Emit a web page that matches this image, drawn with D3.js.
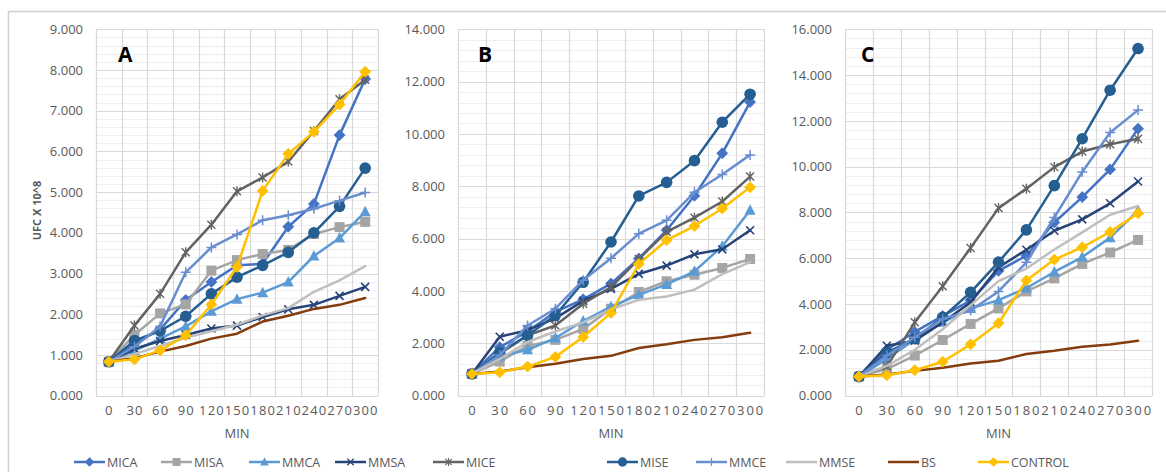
<!DOCTYPE html>
<html>
<head>
<meta charset="utf-8">
<script src="https://cdn.jsdelivr.net/npm/d3@7/dist/d3.min.js"></script>
<style>
  html, body { margin: 0; padding: 0; background: #fff; }
  svg { display: block; font-family: "Open Sans", "Liberation Sans", sans-serif; }
</style>
</head>
<body>
<svg id="chart" width="1166" height="472"></svg>
<script>
// Sampling times (minutes) shared by the three panels
const minutes = ["0", "30", "60", "90", "120", "150", "180", "210", "240", "270", "300"];
const seriesNames = ["MICA", "MISA", "MMCA", "MMSA", "MICE", "MISE", "MMCE", "MMSE", "BS", "CONTROL"];
const panelLetters = ["A", "B", "C"];
const yMax = [9, 14, 16];
const yStep = [1, 2, 2];

// Reference series, identical in every panel
const bs      = [0.83, 0.92, 1.08, 1.22, 1.40, 1.52, 1.82, 1.96, 2.13, 2.23, 2.40];
const control = [0.83, 0.89, 1.11, 1.48, 2.24, 3.16, 5.03, 5.94, 6.48, 7.15, 7.96];

// Panel A
const micaA = [0.83, 1.28, 1.62, 2.35, 2.79, 3.20, 3.24, 4.15, 4.71, 6.40, 7.78];
const misaA = [0.83, 1.49, 2.02, 2.24, 3.07, 3.33, 3.48, 3.58, 3.97, 4.14, 4.27];
const mmcaA = [0.83, 1.10, 1.40, 1.70, 2.07, 2.37, 2.53, 2.79, 3.43, 3.87, 4.52];
const mmsaA = [0.83, 1.15, 1.34, 1.49, 1.65, 1.72, 1.93, 2.12, 2.23, 2.45, 2.67];
const miceA = [0.83, 1.72, 2.50, 3.52, 4.20, 5.02, 5.36, 5.75, 6.50, 7.28, 7.76];
const miseA = [0.83, 1.35, 1.59, 1.95, 2.50, 2.91, 3.20, 3.52, 4.00, 4.65, 5.59];
const mmceA = [0.83, 1.20, 1.70, 3.03, 3.64, 3.96, 4.31, 4.43, 4.59, 4.79, 4.99];
const mmseA = [0.83, 1.02, 1.22, 1.42, 1.58, 1.74, 1.97, 2.15, 2.55, 2.83, 3.18];

// Panel B
const micaB = [0.83, 1.85, 2.45, 3.20, 3.68, 4.28, 5.24, 6.32, 7.64, 9.26, 11.22];
const misaB = [0.83, 1.30, 1.90, 2.13, 2.55, 3.32, 3.96, 4.37, 4.62, 4.88, 5.22];
const mmcaB = [0.83, 1.50, 1.75, 2.20, 2.85, 3.40, 3.85, 4.25, 4.75, 5.71, 7.08];
const mmsaB = [0.83, 2.25, 2.50, 2.95, 3.62, 4.08, 4.65, 4.97, 5.40, 5.59, 6.32];
const miceB = [0.83, 1.60, 2.30, 2.68, 3.51, 4.15, 5.22, 6.26, 6.80, 7.42, 8.37];
const miseB = [0.83, 1.65, 2.30, 3.07, 4.33, 5.87, 7.63, 8.15, 8.98, 10.45, 11.52];
const mmceB = [0.83, 1.55, 2.68, 3.32, 4.41, 5.25, 6.19, 6.70, 7.77, 8.45, 9.20];
const mmseB = [0.83, 1.40, 2.05, 2.45, 2.80, 3.30, 3.66, 3.79, 4.05, 4.64, 5.10];

// Panel C
const micaC = [0.83, 2.00, 2.78, 3.48, 4.15, 5.45, 6.11, 7.56, 8.67, 9.88, 11.66];
const misaC = [0.83, 1.16, 1.75, 2.43, 3.13, 3.81, 4.55, 5.12, 5.75, 6.25, 6.80];
const mmcaC = [0.83, 1.60, 2.45, 3.20, 3.80, 4.17, 4.70, 5.40, 6.05, 6.90, 8.08];
const mmsaC = [0.83, 2.18, 2.40, 3.20, 4.07, 5.60, 6.37, 7.20, 7.70, 8.40, 9.35];
const miceC = [0.83, 1.28, 3.20, 4.78, 6.45, 8.19, 9.04, 9.98, 10.66, 10.98, 11.22];
const miseC = [0.83, 1.88, 2.48, 3.42, 4.51, 5.83, 7.24, 9.17, 11.22, 13.34, 15.16];
const mmceC = [0.83, 1.75, 2.55, 3.35, 3.72, 4.55, 5.82, 7.78, 9.77, 11.49, 12.47];
const mmseC = [0.83, 1.30, 2.00, 2.90, 3.95, 5.00, 5.55, 6.38, 7.13, 7.90, 8.28];

const panelData = [
  [micaA, misaA, mmcaA, mmsaA, miceA, miseA, mmceA, mmseA, bs, control],
  [micaB, misaB, mmcaB, mmsaB, miceB, miseB, mmceB, mmseB, bs, control],
  [micaC, misaC, mmcaC, mmsaC, miceC, miseC, mmceC, mmseC, bs, control]
];

// Line colour and marker kind for each series
const styles = {
  MICA:    { color: "#4472C4", marker: "diamond" },
  MISA:    { color: "#A5A5A5", marker: "square" },
  MMCA:    { color: "#5B9BD5", marker: "triangle" },
  MMSA:    { color: "#264478", marker: "x" },
  MICE:    { color: "#636363", marker: "star" },
  MISE:    { color: "#255E91", marker: "circle" },
  MMCE:    { color: "#698ED0", marker: "plus" },
  MMSE:    { color: "#BFBFBF", marker: null },
  BS:      { color: "#843C0C", marker: null },
  CONTROL: { color: "#FFC000", marker: "diamond" }
};

const svg = d3.select("#chart");
const textColor = "#595959";

// Outer frame (top and left edges)
svg.append("line").attr("x1", 9).attr("x2", 1166).attr("y1", 11.5).attr("y2", 11.5)
  .attr("stroke", "#d0d0d0").attr("stroke-width", 1.5);
svg.append("line").attr("x1", 8.5).attr("x2", 8.5).attr("y1", 11).attr("y2", 472)
  .attr("stroke", "#d0d0d0").attr("stroke-width", 1.5);

const plotBoxes = [
  { left: 96, right: 378, letterDx: 22 },
  { left: 458, right: 764, letterDx: 20 },
  { left: 845, right: 1152, letterDx: 16 }
];
const plotTop = 29.3, plotBottom = 395.6;

function drawMarker(g, kind, cx, cy, color) {
  const s = 5;
  if (kind === "diamond") {
    g.append("path").attr("d", `M${cx},${cy - s - 0.5}L${cx + s + 0.5},${cy}L${cx},${cy + s + 0.5}L${cx - s - 0.5},${cy}Z`)
      .attr("fill", color).attr("stroke", color).attr("stroke-width", 0.8);
  } else if (kind === "square") {
    g.append("rect").attr("x", cx - s).attr("y", cy - s).attr("width", 2 * s).attr("height", 2 * s)
      .attr("fill", color);
  } else if (kind === "triangle") {
    g.append("path").attr("d", `M${cx},${cy - s - 1}L${cx + s + 0.5},${cy + s - 0.5}L${cx - s - 0.5},${cy + s - 0.5}Z`)
      .attr("fill", color);
  } else if (kind === "circle") {
    g.append("circle").attr("cx", cx).attr("cy", cy).attr("r", s + 0.8).attr("fill", color);
  } else if (kind === "x") {
    g.append("path").attr("d", `M${cx - 4},${cy - 4}L${cx + 4},${cy + 4}M${cx - 4},${cy + 4}L${cx + 4},${cy - 4}`)
      .attr("stroke", color).attr("stroke-width", 1.6).attr("fill", "none");
  } else if (kind === "star") {
    g.append("path").attr("d", `M${cx - 4},${cy - 4}L${cx + 4},${cy + 4}M${cx - 4},${cy + 4}L${cx + 4},${cy - 4}M${cx},${cy - 5}L${cx},${cy + 5}`)
      .attr("stroke", color).attr("stroke-width", 1.4).attr("fill", "none");
  } else if (kind === "plus") {
    g.append("path").attr("d", `M${cx - 5},${cy}L${cx + 5},${cy}M${cx},${cy - 5}L${cx},${cy + 5}`)
      .attr("stroke", color).attr("stroke-width", 1.5).attr("fill", "none");
  }
}

panelData.forEach((seriesList, pi) => {
  const box = plotBoxes[pi];
  const x = d3.scaleBand().domain(minutes).range([box.left, box.right]).padding(0);
  const y = d3.scaleLinear().domain([0, yMax[pi]]).range([plotBottom, plotTop]);
  const bw = x.bandwidth();
  const g = svg.append("g");

  // Minor horizontal gridlines
  const minorStep = yStep[pi] / 5;
  const minorVals = d3.range(0, yMax[pi] + 1e-9, minorStep).filter(v => Math.abs(v / yStep[pi] - Math.round(v / yStep[pi])) > 1e-6);
  g.selectAll(".minor").data(minorVals).join("line")
    .attr("x1", box.left).attr("x2", box.right)
    .attr("y1", d => Math.round(y(d)) + 0.5).attr("y2", d => Math.round(y(d)) + 0.5)
    .attr("stroke", "#efefef").attr("stroke-width", 1);

  // Major horizontal gridlines
  const majorVals = d3.range(0, yMax[pi] + 1e-9, yStep[pi]);
  g.selectAll(".major").data(majorVals).join("line")
    .attr("x1", box.left).attr("x2", box.right)
    .attr("y1", d => Math.round(y(d)) + 0.5).attr("y2", d => Math.round(y(d)) + 0.5)
    .attr("stroke", "#d9d9d9").attr("stroke-width", 1.2);

  // Vertical gridlines at category boundaries
  const edges = minutes.map(m => x(m)).concat([box.right]);
  g.selectAll(".vgrid").data(edges).join("line")
    .attr("x1", d => Math.round(d) + 0.5).attr("x2", d => Math.round(d) + 0.5)
    .attr("y1", plotTop).attr("y2", plotBottom + 0.5)
    .attr("stroke", "#d9d9d9").attr("stroke-width", 1.2);

  // Y axis labels
  const yAxis = d3.axisLeft(y).tickValues(majorVals).tickSize(0).tickPadding(13)
    .tickFormat(d3.format(".3f"));
  const ya = svg.append("g").attr("transform", `translate(${box.left},0)`).call(yAxis);
  ya.select(".domain").remove();
  ya.selectAll("text").attr("fill", textColor).style("font-size", "13px")
    .style("font-family", "'Open Sans', sans-serif");

  // X axis labels, spread to fill each category
  const xAxis = d3.axisBottom(x).tickSize(0).tickPadding(10);
  const xa = svg.append("g").attr("transform", `translate(0,${plotBottom})`).call(xAxis);
  xa.select(".domain").remove();
  const spacing = bw / 3 - 7.4;
  xa.selectAll("text").attr("fill", textColor).style("font-size", "13px")
    .style("font-family", "'Open Sans', sans-serif")
    .style("letter-spacing", spacing + "px")
    .attr("dx", spacing / 2);

  // Axis title
  svg.append("text").attr("x", (box.left + box.right) / 2).attr("y", 438)
    .attr("text-anchor", "middle").attr("fill", textColor)
    .style("font-size", "13px").text("MIN");

  // Panel letter
  svg.append("text").attr("x", box.left + box.letterDx).attr("y", 62)
    .attr("fill", "#000").style("font-size", "21px").style("font-weight", "bold")
    .text(panelLetters[pi]);

  // Series lines then markers, in series order
  const line = d3.line().x((d, i) => x(minutes[i]) + bw / 2).y(d => y(d));
  seriesList.forEach((vals, si) => {
    const st = styles[seriesNames[si]];
    const sg = g.append("g");
    sg.append("path").datum(vals).attr("d", line)
      .attr("fill", "none").attr("stroke", st.color).attr("stroke-width", 2.5)
      .attr("stroke-linejoin", "round").attr("stroke-linecap", "round");
    if (st.marker) {
      vals.forEach((v, i) => drawMarker(sg, st.marker, x(minutes[i]) + bw / 2, y(v), st.color));
    }
  });
});

// Y axis title for the first panel
svg.append("text")
  .attr("transform", `translate(41,${(plotTop + plotBottom) / 2 - 2}) rotate(-90)`)
  .attr("text-anchor", "middle").attr("fill", textColor)
  .style("font-size", "11px").style("font-weight", "bold")
  .text("UFC X 10^8");

// Legend along the bottom
const legendX = [74, 161, 249, 335, 433, 607, 696, 786, 888, 978];
const legendY = 462;
const lg = svg.append("g");
seriesNames.forEach((name, i) => {
  const st = styles[name];
  const x0 = legendX[i];
  lg.append("line").attr("x1", x0).attr("x2", x0 + 31).attr("y1", legendY).attr("y2", legendY)
    .attr("stroke", st.color).attr("stroke-width", 2.5);
  if (st.marker) {
    const mg = lg.append("g").attr("transform", `translate(${x0 + 15.5},${legendY}) scale(0.8)`);
    drawMarker(mg, st.marker, 0, 0, st.color);
  }
  lg.append("text").attr("x", x0 + 33).attr("y", legendY + 4.5)
    .attr("fill", textColor).style("font-size", "12.5px").text(name);
});
</script>
</body>
</html>
